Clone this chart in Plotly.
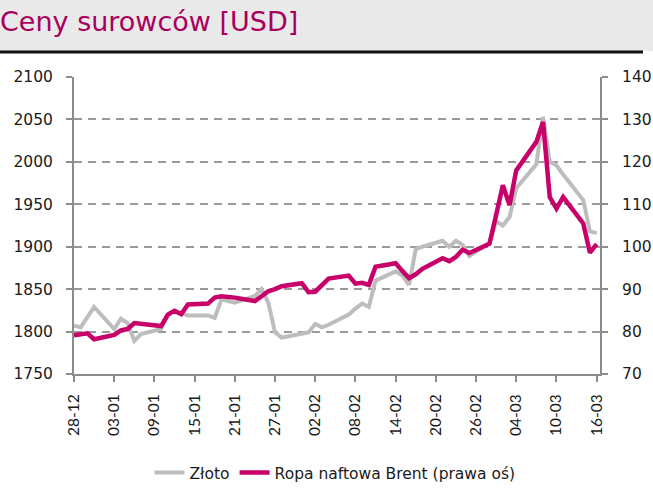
import plotly.graph_objects as go

dates = [
    "2021-12-28", "2021-12-29", "2021-12-30", "2021-12-31",
    "2022-01-03", "2022-01-04", "2022-01-05", "2022-01-06", "2022-01-07",
    "2022-01-10", "2022-01-11", "2022-01-12", "2022-01-13", "2022-01-14",
    "2022-01-17", "2022-01-18", "2022-01-19", "2022-01-20", "2022-01-21",
    "2022-01-24", "2022-01-25", "2022-01-26", "2022-01-27", "2022-01-28",
    "2022-01-31", "2022-02-01", "2022-02-02", "2022-02-03", "2022-02-04",
    "2022-02-07", "2022-02-08", "2022-02-09", "2022-02-10", "2022-02-11",
    "2022-02-14", "2022-02-15", "2022-02-16", "2022-02-17", "2022-02-18",
    "2022-02-21", "2022-02-22", "2022-02-23", "2022-02-24", "2022-02-25",
    "2022-02-28", "2022-03-01", "2022-03-02", "2022-03-03", "2022-03-04",
    "2022-03-07", "2022-03-08", "2022-03-09", "2022-03-10", "2022-03-11",
    "2022-03-14", "2022-03-15", "2022-03-16",
]

gold = [
    1807, 1805, 1817, 1829,
    1803, 1815, 1810, 1789, 1797,
    1803, 1820, 1824, 1822, 1819,
    1819, 1816, 1838, 1836, 1834,
    1842, 1850, 1834, 1799, 1793,
    1797, 1799, 1809, 1805, 1808,
    1820, 1827, 1833, 1829, 1860,
    1871, 1866, 1855, 1897, 1900,
    1907, 1900, 1907, 1902, 1889,
    1904, 1930, 1925, 1935, 1969,
    1997, 2053, 2000, 1996, 1985,
    1955, 1918, 1916,
]

brent = [
    79.1, 79.4, 79.6, 78.2,
    79.2, 80.3, 80.6, 82.0, 81.8,
    81.3, 84.0, 84.9, 84.1, 86.4,
    86.6, 88.0, 88.3, 88.2, 88.0,
    87.2, 88.3, 89.5, 90.0, 90.7,
    91.4, 89.3, 89.4, 90.9, 92.5,
    93.2, 91.3, 91.5, 91.0, 95.3,
    96.1, 94.3, 92.6, 93.5, 94.8,
    97.3, 96.6, 97.6, 99.3, 98.5,
    100.7, 107.5, 114.5, 109.8, 118.0,
    124.7, 129.4, 111.7, 109.0, 111.7,
    105.5, 98.6, 100.6,
]

series_names = ["Złoto", "Ropa naftowa Brent (prawa oś)"]
title_text = "Ceny surowców [USD]"

FONT = "DejaVu Sans"
FS = 15.5
XFONT = "Lato"
XFS = 15.5
axis_col = "#8c8c8c"
txt_col = "#1a1a1a"

L, R, T, B = 74, 53, 77, 130
PW = 653 - L - R
PH = 504 - T - B


def px_x(x):
    return (x - L) / PW


def px_y(y):
    return (504 - B - y) / PH


DAY = 86400000

fig = go.Figure()
fig.add_trace(go.Scatter(
    x=dates, y=gold, name=series_names[0], mode="lines",
    line=dict(color="#bdbdbd", width=4), yaxis="y",
))
fig.add_trace(go.Scatter(
    x=dates, y=brent, name=series_names[1], mode="lines",
    line=dict(color="#c8006a", width=4.5), yaxis="y2",
))

fig.update_layout(
    width=653, height=504,
    paper_bgcolor="white", plot_bgcolor="white",
    margin=dict(l=L, r=R, t=T, b=B, pad=0, autoexpand=False),
    font=dict(family=FONT, size=FS, color=txt_col),
    title=dict(
        text=title_text, xref="container", yref="container",
        x=0.0, xanchor="left", y=1 - 22 / 504, yanchor="middle",
        font=dict(family="DejaVu Sans", size=27, color="#a8005c"),
        pad=dict(l=0, t=0, b=0, r=0),
    ),
    xaxis=dict(
        type="date",
        range=["2021-12-28", "2022-03-16 12:00"],
        tick0="2021-12-28", dtick=6 * DAY,
        tickformat="%d-%m", tickangle=-90,
        showgrid=False, zeroline=False,
        showline=True, linecolor=axis_col, linewidth=2,
        ticks="outside", ticklen=6, tickwidth=2, tickcolor=axis_col,
        tickfont=dict(family=XFONT, size=XFS, color=txt_col),
        ticklabelstandoff=6,
        automargin=False,
    ),
    yaxis=dict(
        range=[1750, 2100], dtick=50, tick0=1750,
        showgrid=True, gridcolor="#9a9a9a", gridwidth=2,
        griddash="8px,6px", zeroline=False,
        showline=True, linecolor=axis_col, linewidth=2,
        ticks="outside", ticklen=6, tickwidth=2, tickcolor=axis_col,
        tickfont=dict(family=FONT, size=FS, color=txt_col),
        ticklabelstandoff=10,
        automargin=False,
    ),
    yaxis2=dict(
        range=[70, 140], dtick=10, tick0=70,
        overlaying="y", side="right", showgrid=False, zeroline=False,
        showline=True, linecolor=axis_col, linewidth=2,
        ticks="outside", ticklen=6, tickwidth=2, tickcolor=axis_col,
        tickfont=dict(family=FONT, size=FS, color=txt_col),
        ticklabelstandoff=11,
        automargin=False,
    ),
    legend=dict(
        orientation="h", x=px_x(335), xanchor="center",
        y=px_y(473), yanchor="middle",
        font=dict(family=FONT, size=FS, color=txt_col),
        bgcolor="rgba(0,0,0,0)",
        itemwidth=30, tracegroupgap=0,
    ),
    shapes=[
        dict(type="rect", xref="paper", yref="paper",
             x0=px_x(0), x1=px_x(653), y0=px_y(51), y1=px_y(0),
             fillcolor="#e9e9e9", line=dict(width=0), layer="below"),
        dict(type="line", xref="paper", yref="paper",
             x0=px_x(0), x1=px_x(643), y0=px_y(52), y1=px_y(52),
             line=dict(color="#111111", width=3)),
    ],
)

fig.write_html(
    "out.html",
    config={"displayModeBar": False},
    post_script="document.body.style.margin='0';document.body.style.padding='0';",
)
